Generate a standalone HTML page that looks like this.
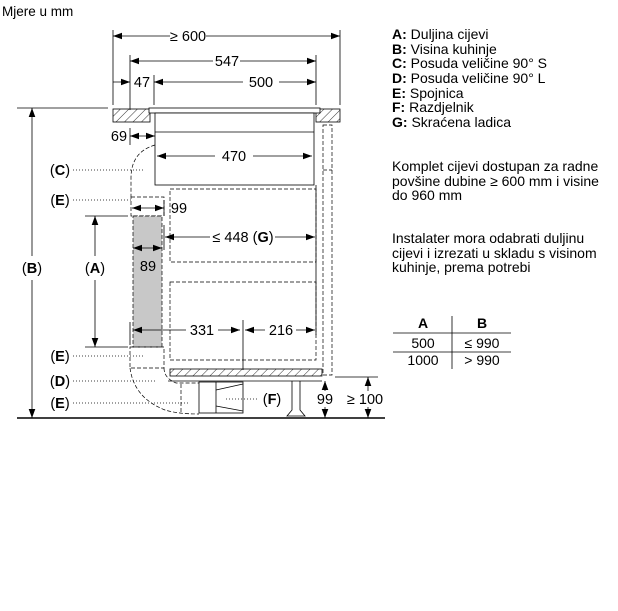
<!DOCTYPE html>
<html><head><meta charset="utf-8"><style>
body{margin:0;background:#fff;}
svg{display:block;font-family:"Liberation Sans",Arial,sans-serif;}
</style></head><body>
<svg width="618" height="611" viewBox="0 0 618 611" xmlns="http://www.w3.org/2000/svg">
<defs>
<pattern id="h" width="6" height="6" patternUnits="userSpaceOnUse" patternTransform="rotate(45)"><line x1="0" y1="0" x2="0" y2="6" stroke="#000" stroke-width="0.8"/></pattern>
<polygon id="ar" points="0,0 -9,-3.3 -9,3.3" fill="#000"/>
</defs>
<text x="2" y="16" font-size="13.5">Mjere u mm</text>
<g stroke="#000" stroke-width="0.8" fill="none">
<rect x="113" y="109" width="37" height="13" fill="url(#h)"/>
<rect x="316" y="109" width="24" height="13" fill="url(#h)"/>
<rect x="149" y="108" width="171" height="5" fill="#fff"/>
<rect x="155" y="113" width="159" height="72" fill="#fff"/>
<line x1="155" y1="132" x2="314" y2="132"/>
<g stroke-dasharray="4,2" stroke-width="0.7">
<rect x="170" y="189" width="146" height="73"/>
<rect x="170" y="282" width="146" height="78"/>
<path d="M323 125 H332 V375 H323 Z"/>
<line x1="323" y1="170" x2="332" y2="170"/>
<path d="M155 145 Q131 152 131 178 V197"/>
<rect x="131" y="197" width="33" height="19"/>
<rect x="133" y="216" width="29" height="131" fill="#c8c8c8"/>
<rect x="130" y="347" width="34" height="21"/>
<path d="M130 368 Q134 398 165 410 Q178 414 199 414"/>
<path d="M164 368 Q164 378 176 383 H199"/>
<line x1="181" y1="384" x2="181" y2="413"/>
</g>
<rect x="170" y="369" width="152" height="7" fill="url(#h)"/>
<line x1="168" y1="381" x2="322" y2="381"/>
<path d="M292 381 V410 L287 416 H305 L300 410 V381"/>
<rect x="199" y="382" width="44" height="31"/>
<line x1="216" y1="382" x2="216" y2="413"/>
<line x1="216" y1="390" x2="243" y2="384"/><line x1="216" y1="406" x2="243" y2="411"/>
<line x1="113" y1="30" x2="113" y2="105"/><line x1="340" y1="30" x2="340" y2="105"/>
<line x1="130" y1="55" x2="130" y2="110"/><line x1="130" y1="128" x2="130" y2="145"/><line x1="316" y1="55" x2="316" y2="105"/>
<line x1="316" y1="185" x2="316" y2="335"/>
<line x1="154" y1="75" x2="154" y2="105"/>
<line x1="17" y1="108" x2="108" y2="108"/>
<line x1="17" y1="418" x2="385" y2="418" stroke-width="1.5"/>
<line x1="113" y1="36" x2="170" y2="36"/><line x1="206" y1="36" x2="340" y2="36"/>
<line x1="130" y1="61" x2="213" y2="61"/><line x1="240" y1="61" x2="316" y2="61"/>
<line x1="113" y1="82" x2="130" y2="82"/>
<line x1="154" y1="82" x2="243" y2="82"/><line x1="279" y1="82" x2="316" y2="82"/>
<line x1="130" y1="136" x2="155" y2="136"/>
<line x1="157" y1="156" x2="215" y2="156"/><line x1="253" y1="156" x2="312" y2="156"/>
<line x1="132" y1="208" x2="164" y2="208"/>
<line x1="164" y1="200" x2="164" y2="216"/>
<line x1="164" y1="225" x2="164" y2="250"/>
<line x1="165" y1="237" x2="210" y2="237"/><line x1="275" y1="237" x2="315" y2="237"/>
<line x1="133" y1="248" x2="162" y2="248"/>
<line x1="133" y1="330" x2="186" y2="330"/><line x1="218" y1="330" x2="240" y2="330"/>
<line x1="245" y1="330" x2="265" y2="330"/><line x1="296" y1="330" x2="315" y2="330"/>
<line x1="243" y1="320" x2="243" y2="370"/><line x1="130" y1="322" x2="130" y2="345"/>
<line x1="85" y1="216" x2="128" y2="216"/><line x1="85" y1="347" x2="128" y2="347"/>
<line x1="95" y1="216" x2="95" y2="256"/><line x1="95" y1="280" x2="95" y2="347"/>
<line x1="32" y1="108" x2="32" y2="256"/><line x1="32" y1="280" x2="32" y2="418"/>
<line x1="325" y1="381" x2="325" y2="391"/><line x1="325" y1="407" x2="325" y2="418"/>
<line x1="335" y1="377" x2="378" y2="377"/>
<line x1="368" y1="377" x2="368" y2="391"/><line x1="368" y1="407" x2="368" y2="418"/>
<g stroke-dasharray="1,2">
<line x1="73" y1="170" x2="145" y2="170"/><line x1="73" y1="200" x2="132" y2="200"/>
<line x1="73" y1="356" x2="143" y2="356"/><line x1="73" y1="381" x2="155" y2="381"/>
<line x1="73" y1="403" x2="188" y2="403"/><line x1="226" y1="399" x2="258" y2="399"/>
</g>
</g>
<!-- arrowheads -->
<use href="#ar" transform="translate(113,36) rotate(180)"/><use href="#ar" transform="translate(340,36)"/>
<use href="#ar" transform="translate(130,61) rotate(180)"/><use href="#ar" transform="translate(316,61)"/>
<use href="#ar" transform="translate(130,82)"/><use href="#ar" transform="translate(154,82) rotate(180)"/><use href="#ar" transform="translate(316,82)"/>
<use href="#ar" transform="translate(130,136) rotate(180)"/><use href="#ar" transform="translate(155,136)"/>
<use href="#ar" transform="translate(157,156) rotate(180)"/><use href="#ar" transform="translate(312,156)"/>
<use href="#ar" transform="translate(132,208) rotate(180)"/><use href="#ar" transform="translate(164,208)"/>
<use href="#ar" transform="translate(165,237) rotate(180)"/><use href="#ar" transform="translate(315,237)"/>
<use href="#ar" transform="translate(133,248) rotate(180)"/><use href="#ar" transform="translate(162,248)"/>
<use href="#ar" transform="translate(133,330) rotate(180)"/><use href="#ar" transform="translate(240,330)"/>
<use href="#ar" transform="translate(245,330) rotate(180)"/><use href="#ar" transform="translate(315,330)"/>
<use href="#ar" transform="translate(95,216) rotate(-90)"/><use href="#ar" transform="translate(95,347) rotate(90)"/>
<use href="#ar" transform="translate(32,108) rotate(-90)"/><use href="#ar" transform="translate(32,418) rotate(90)"/>
<use href="#ar" transform="translate(325,381) rotate(-90)"/><use href="#ar" transform="translate(325,418) rotate(90)"/>
<use href="#ar" transform="translate(368,377) rotate(-90)"/><use href="#ar" transform="translate(368,418) rotate(90)"/>
<g font-size="14.5" text-anchor="middle">
<text x="188" y="41">≥ 600</text><text x="227" y="66">547</text><text x="142" y="87">47</text><text x="261" y="87">500</text>
<text x="119" y="141">69</text><text x="234" y="161">470</text><text x="179" y="213">99</text>
<text x="243" y="242">≤ 448 (<tspan font-weight="bold">G</tspan>)</text>
<text x="148" y="271">89</text><text x="202" y="335">331</text><text x="281" y="335">216</text>
<text x="325" y="404">99</text><text x="365" y="404">≥ 100</text>
<text x="60" y="175">(<tspan font-weight="bold">C</tspan>)</text>
<text x="60" y="205">(<tspan font-weight="bold">E</tspan>)</text>
<text x="95" y="273">(<tspan font-weight="bold">A</tspan>)</text>
<text x="32" y="273">(<tspan font-weight="bold">B</tspan>)</text>
<text x="60" y="361">(<tspan font-weight="bold">E</tspan>)</text>
<text x="60" y="386">(<tspan font-weight="bold">D</tspan>)</text>
<text x="60" y="408">(<tspan font-weight="bold">E</tspan>)</text>
<text x="272" y="404">(<tspan font-weight="bold">F</tspan>)</text>
</g>
<g font-size="14">
<text x="392" y="39"><tspan font-weight="bold">A:</tspan> Duljina cijevi</text>
<text x="392" y="54"><tspan font-weight="bold">B:</tspan> Visina kuhinje</text>
<text x="392" y="68"><tspan font-weight="bold">C:</tspan> Posuda veličine 90° S</text>
<text x="392" y="83"><tspan font-weight="bold">D:</tspan> Posuda veličine 90° L</text>
<text x="392" y="98"><tspan font-weight="bold">E:</tspan> Spojnica</text>
<text x="392" y="112"><tspan font-weight="bold">F:</tspan> Razdjelnik</text>
<text x="392" y="127"><tspan font-weight="bold">G:</tspan> Skraćena ladica</text>
<text x="392" y="171">Komplet cijevi dostupan za radne</text>
<text x="392" y="186">povšine dubine ≥ 600 mm i visine</text>
<text x="392" y="200">do 960 mm</text>
<text x="392" y="243">Instalater mora odabrati duljinu</text>
<text x="392" y="258">cijevi i izrezati u skladu s visinom</text>
<text x="392" y="272">kuhinje, prema potrebi</text>
</g>
<g font-size="14" text-anchor="middle">
<text x="423" y="328" font-weight="bold">A</text><text x="482" y="328" font-weight="bold">B</text>
<text x="423" y="348">500</text><text x="482" y="348">≤ 990</text>
<text x="423" y="365">1000</text><text x="482" y="365">&gt; 990</text>
</g>
<g stroke="#000" stroke-width="0.8">
<line x1="393" y1="333" x2="511" y2="333"/><line x1="393" y1="352" x2="511" y2="352"/>
<line x1="452" y1="316" x2="452" y2="369"/>
</g>
</svg>
</body></html>
